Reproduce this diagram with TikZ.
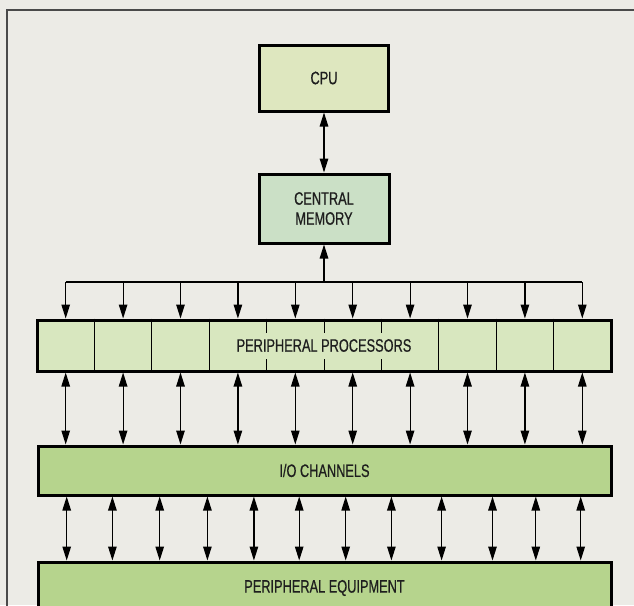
\documentclass[tikz,border=0pt]{standalone}
\usepackage{fontspec}
\setmainfont{Liberation Sans}[FakeStretch=0.71,FakeBold=0.6]
\usetikzlibrary{arrows.meta}
\definecolor{paper}{HTML}{ECEBE6}
\definecolor{framec}{HTML}{4A4A4A}
\definecolor{cpufill}{HTML}{DEE7BF}
\definecolor{memfill}{HTML}{CBE0C6}
\definecolor{ppfill}{HTML}{D8E7BF}
\definecolor{iofill}{HTML}{B6D48D}
\definecolor{inkc}{HTML}{1E1E1E}
\tikzset{
  labelfont/.style={font=\fontsize{18}{20}\selectfont},
  unit/.style={draw=black, line width=3pt, text=inkc, inner sep=0pt, align=center, labelfont},
  link/.style={line width=1.2pt, draw=black},
  onehead/.style={link, -{Triangle[length=14pt,width=8.5pt]}},
  twohead/.style={link, {Triangle[length=14pt,width=8.5pt]}-{Triangle[length=14pt,width=8.5pt]}},
  cellline/.style={line width=1pt, draw=black},
}
\begin{document}
\begin{tikzpicture}[x=1pt,y=-1pt]
  % page and outer frame
  \useasboundingbox (0,0) rectangle (634,605);
  \fill[paper] (0,0) rectangle (634,605);
  \draw[framec, line width=1.6pt] (7,640) -- (7,10) -- (660,10);

  % main units
  \node[unit, fill=cpufill, minimum width=129pt, minimum height=66pt] (cpu) at (324,78) {CPU};
  \node[unit, fill=memfill, minimum width=130pt, minimum height=69pt] (mem) at (324,208.5) {CENTRAL\\MEMORY};
  \node[unit, fill=ppfill, minimum width=574pt, minimum height=51pt] (pp) at (324,345.5) {};
  \node[unit, fill=iofill, minimum width=573pt, minimum height=49pt] (io) at (324.5,470.5) {I/O CHANNELS};
  \node[unit, fill=iofill, minimum width=573pt, minimum height=52pt] (pe) at (324.5,588) {PERIPHERAL EQUIPMENT};

  % processor cells: full dividers and short ticks under the label
  \foreach \x in {94.4,151.8,209.2,438.8,496.2,553.6}
    \draw[cellline] (pp.north -| \x,0) -- (pp.south -| \x,0);
  \foreach \x in {266.6,324,381.4} {
    \draw[cellline] (pp.north -| \x,0) -- ++(0,14);
    \draw[cellline] (pp.south -| \x,0) -- ++(0,-14);
  }
  \node[text=inkc, labelfont] (pplabel) at (pp.center) {PERIPHERAL PROCESSORS};

  % CPU <-> memory
  \draw[twohead] (cpu.south) -- (mem.north);

  % distribution bus from memory to the processors
  \coordinate (bus) at (324,282);
  \draw[onehead] (bus) -- (mem.south);
  \foreach \i/\x in {1/65.7,2/123.1,3/180.5,4/237.9,5/295.3,6/352.7,7/410.1,8/467.5,9/524.9,10/582.3}
    \coordinate (b\i) at (\x,282);
  \draw[link] (b1) -- (b10);
  \foreach \i in {1,...,10}
    \draw[onehead] (b\i) -- (b\i |- pp.north);

  % processors <-> channels
  \foreach \i in {1,...,10}
    \draw[twohead] (pp.south -| b\i) -- (io.north -| b\i);

  % channels <-> equipment
  \foreach \x in {66.7,112.4,159.7,207.4,253.9,299.2,345.7,391.4,441.6,492.5,535.8,580.7}
    \draw[twohead] (io.south -| \x,0) -- (pe.north -| \x,0);
\end{tikzpicture}
\end{document}
